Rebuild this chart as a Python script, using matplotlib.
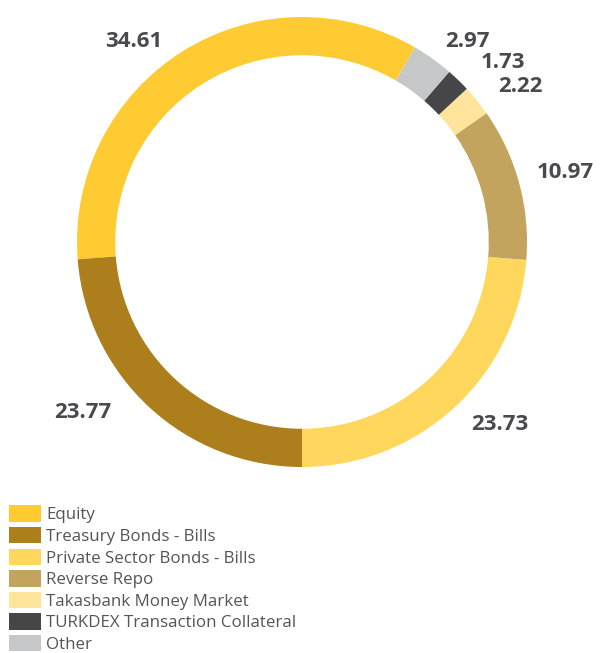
import numpy as np
import matplotlib.pyplot as plt
from matplotlib.patches import Patch

# DADOS
categorias = ["Equity", "Treasury Bonds - Bills", "Private Sector Bonds - Bills",
              "Reverse Repo", "Takasbank Money Market",
              "TURKDEX Transaction Collateral", "Other"]
valores = [34.61, 23.77, 23.73, 10.97, 2.22, 1.73, 2.97]
rotulos = ["34.61", "23.77", "23.73", "10.97", "2.22", "1.73", "2.97"]
cores = ["#FFCB32", "#AC7F1C", "#FFD75C", "#C3A45E", "#FFE49B", "#464649", "#C6C7C9"]

# posicao dos rotulos (coord. de dados, raio = 1)
pos_rotulos = [(-0.747, 0.889), (-0.973, -0.756), (0.880, -0.809),
               (1.169, 0.311), (0.969, 0.689), (0.893, 0.796), (0.733, 0.889)]

fig = plt.figure(figsize=(6.03, 6.53), dpi=100)
ax = fig.add_axes([0, 0, 1, 1])

# comeca o Equity de forma que Treasury termine em 270 graus
inicio = 270 - 360 * (valores[0] + valores[1]) / sum(valores)
ax.pie(valores, colors=cores, startangle=inicio, counterclock=True,
       radius=1, wedgeprops=dict(width=0.17, linewidth=0))

for txt, (x, y) in zip(rotulos, pos_rotulos):
    ax.text(x, y, txt, ha="center", va="center", fontsize=16,
            fontweight="bold", color="#4A4A4D", family="Open Sans")

ax.set_xlim(-302 / 225, 301 / 225)
ax.set_ylim(-411 / 225, 242 / 225)
ax.set_aspect("equal")
ax.axis("off")

handles = [Patch(facecolor=c, edgecolor="none") for c in cores]
leg = fig.legend(handles, categorias, loc="upper left", bbox_to_anchor=(0.015, 0.226),
                 frameon=False, handlelength=1.9, handleheight=1.12,
                 labelspacing=0.21, handletextpad=0.3, borderaxespad=0, borderpad=0,
                 prop={"family": "Open Sans", "size": 12.2})
for t in leg.get_texts():
    t.set_color("#555558")

fig.savefig("out.png", dpi=100)
